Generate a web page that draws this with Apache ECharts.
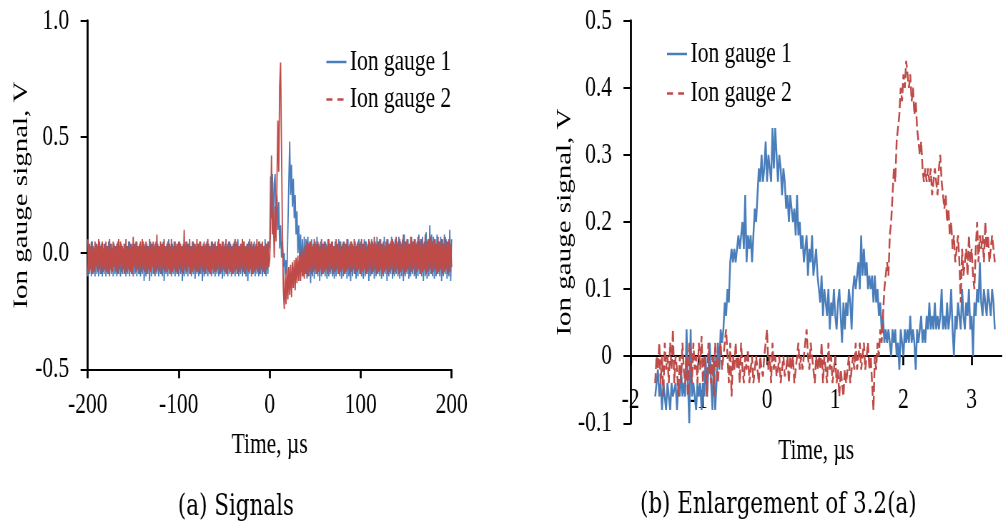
<!DOCTYPE html>
<html><head><meta charset="utf-8">
<script src="https://cdn.jsdelivr.net/npm/echarts@6.0.0/dist/echarts.min.js"></script>
<style>
html,body{margin:0;padding:0;overflow:hidden;background:#fff;width:1003px;height:529px}
#chart{width:1403px;height:529px;transform:scaleX(0.7149);transform-origin:0 0}
</style></head><body><div id="chart"></div>
<script>
// ---------- data ----------
const seriesNames = ['Ion gauge 1', 'Ion gauge 2'];
const captions = ['(a) Signals', '(b) Enlargement of 3.2(a)'];
const xName = 'Time, µs';
const yName = 'Ion gauge signal, V';

// (a) full record: one sample per µs from -200 to 200
const leftT0 = -200, leftDt = 1;
const leftGauge1 = [
-.1,.04,-.09,.03,-.1,.05,-.09,.02,-.1,.04,-.09,.03,-.1,.05,-.09,.04,-.1,.02,-.09,.04,
-.1,.03,-.09,.05,-.1,.04,-.09,.02,-.1,.04,-.09,.03,-.1,.05,-.09,.03,-.1,.04,-.09,.02,
-.09,.04,-.1,.03,-.09,.05,-.1,.04,-.09,.03,-.1,.04,-.09,.05,-.1,.03,-.09,.04,-.1,.03,
-.09,.05,-.12,.03,-.1,.04,-.09,.03,-.12,.05,-.1,.04,-.09,.03,-.1,.05,-.09,.04,-.1,.03,
-.09,.04,-.1,.05,-.12,.03,-.09,.04,-.1,.06,-.09,.03,-.1,.04,-.09,.05,-.1,.03,-.09,.04,
-.1,.05,-.09,.03,-.12,.04,-.1,.03,-.09,.05,-.1,.04,-.09,.03,-.1,.05,-.09,.04,-.11,.03,
-.09,.04,-.1,.05,-.09,.03,-.12,.04,-.1,.03,-.09,.05,-.1,.04,-.09,.03,-.1,.05,-.09,.04,
-.1,.03,-.09,.05,-.1,.04,-.09,.03,-.11,.05,-.1,.04,-.09,.03,-.1,.05,-.09,.04,-.1,.03,
-.09,.05,-.1,.04,-.09,.06,-.1,.03,-.09,.04,-.1,.05,-.09,.03,-.1,.04,-.12,.05,-.09,.04,
-.1,.03,-.09,.05,-.1,.04,-.09,.03,-.1,.05,-.09,.04,-.1,.03,-.09,.06,-.1,.04,-.09,.05,
.02,.33,.15,.34,.1,.3,.34,.08,.25,.1,.22,.02,.12,-.02,.05,-.06,0,-.1,-.03,-.09,
.1,.3,.48,.25,.38,.2,.32,.15,.25,.08,.18,0,.12,-.05,.08,-.08,.06,-.1,.07,-.09,
.06,-.11,.07,-.1,.05,-.13,.06,-.1,.04,-.11,.05,-.09,.07,-.1,.04,-.12,.05,-.1,.04,-.09,
.05,-.1,.04,-.11,.06,-.1,.04,-.09,.05,-.1,.03,-.11,.05,-.1,.04,-.09,.06,-.1,.05,-.11,
.04,-.1,.05,-.09,.04,-.11,.06,-.1,.04,-.12,.05,-.1,.03,-.09,.05,-.11,.04,-.1,.06,-.09,
.05,-.1,.04,-.11,.06,-.1,.05,-.09,.04,-.12,.05,-.1,.06,-.09,.04,-.11,.05,-.1,.07,-.09,
.05,-.1,.06,-.11,.04,-.1,.07,-.09,.05,-.12,.06,-.1,.04,-.09,.07,-.11,.05,-.1,.06,-.09,
.04,-.1,.07,-.11,.05,-.1,.06,-.12,.08,-.1,.05,-.09,.06,-.11,.04,-.1,.07,-.09,.05,-.1,
.06,-.11,.05,-.1,.08,-.09,.06,-.1,.07,-.12,.05,-.1,.09,-.11,.06,-.1,.12,-.09,.08,-.1,
.07,-.11,.06,-.1,.08,-.09,.05,-.1,.07,-.12,.06,-.1,.08,-.09,.06,-.11,.05,-.1,.1,-.12,
.06
];
const leftGauge2 = [
.06,-.08,.04,-.07,.05,-.09,.03,-.08,.05,-.06,.04,-.08,.06,-.07,.03,-.09,.05,-.08,.04,-.07,
.05,-.08,.03,-.09,.06,-.07,.04,-.08,.05,-.06,.03,-.08,.04,-.09,.06,-.07,.05,-.08,.03,-.07,
.04,-.09,.06,-.08,.03,-.07,.05,-.08,.04,-.09,.07,-.06,.04,-.08,.05,-.07,.03,-.09,.05,-.08,
.06,-.07,.04,-.08,.05,-.09,.03,-.07,.06,-.08,.04,-.06,.05,-.09,.04,-.08,.08,-.07,.03,-.08,
.05,-.09,.04,-.07,.06,-.08,.03,-.08,.05,-.07,.04,-.09,.06,-.08,.03,-.07,.05,-.08,.04,-.09,
.05,-.07,.04,-.08,.03,-.09,.1,-.07,.05,-.08,.04,-.06,.06,-.09,.03,-.08,.05,-.07,.04,-.08,
.06,-.08,.04,-.09,.05,-.07,.03,-.08,.05,-.09,.04,-.07,.06,-.08,.03,-.09,.05,-.07,.04,-.08,
.05,-.08,.03,-.07,.06,-.09,.04,-.08,.05,-.07,.03,-.08,.06,-.09,.04,-.07,.05,-.08,.03,-.09,
.04,-.08,.06,-.07,.05,-.09,.03,-.08,.04,-.07,.06,-.08,.05,-.09,.03,-.07,.04,-.08,.06,-.07,
.05,-.09,.04,-.08,.03,-.07,.06,-.08,.05,-.09,.04,-.07,.05,-.08,.03,-.09,.04,-.07,.05,-.06,
-.03,.12,.42,.08,.18,-.02,.2,.05,.3,.57,.35,.72,.82,.45,.1,-.15,-.24,-.1,-.22,-.07,
-.2,-.06,-.18,-.05,-.19,-.04,-.15,-.03,-.16,-.02,-.13,-.01,-.12,0,-.12,.02,-.1,.01,-.11,.03,
-.09,.05,-.1,.04,-.08,.05,-.09,.03,-.08,.06,-.07,.04,-.09,.05,-.08,.03,-.07,.06,-.09,.04,
-.08,.05,-.07,.03,-.09,.06,-.08,.04,-.07,.05,-.09,.03,-.08,.06,-.07,.04,-.09,.05,-.08,.03,
-.07,.05,-.09,.04,-.08,.06,-.07,.03,-.09,.05,-.08,.04,-.07,.06,-.09,.03,-.08,.05,-.07,.04,
-.09,.06,-.08,.04,-.07,.05,-.09,.03,-.08,.06,-.07,.04,-.09,.05,-.08,.07,-.07,.04,-.09,.05,
-.08,.06,-.07,.04,-.09,.05,-.08,.03,-.07,.06,-.09,.04,-.08,.05,-.07,.06,-.09,.04,-.08,.07,
-.07,.05,-.09,.06,-.08,.04,-.07,.08,-.09,.05,-.08,.06,-.07,.04,-.09,.07,-.08,.05,-.07,.06,
-.09,.04,-.08,.07,-.07,.05,-.09,.06,-.08,.04,-.07,.08,-.09,.05,-.08,.06,-.07,.07,-.09,.05,
-.08,.06,-.07,.04,-.09,.07,-.08,.05,-.07,.06,-.09,.04,-.08,.07,-.07,.05,-.09,.06,-.08,.04,
-.06
];

// (b) enlargement: one sample per 0.02 µs from -1.64 to 3.34
const rightT0 = -1.64, rightDt = 0.02;
const rightGauge1 = [
-0.06,-0.04,-0.02,-0.06,-0.04,-0.08,-0.04,-0.06,-0.08,-0.04,
-0.06,-0.08,-0.04,-0.06,-0.06,-0.04,-0.08,-0.04,-0.06,-0.02,
-0.06,-0.04,-0.06,0.04,-0.04,-0.10,0.04,-0.06,-0.04,-0.06,
-0.08,-0.04,-0.06,-0.04,-0.08,-0.04,-0.06,0.00,-0.06,-0.02,
0.02,-0.04,-0.08,0.00,-0.08,-0.04,0.02,-0.02,0.04,0.02,
0.04,0.08,0.06,0.10,0.08,0.14,0.16,0.14,0.16,0.14,
0.16,0.18,0.16,0.18,0.20,0.16,0.24,0.14,0.18,0.16,
0.18,0.14,0.18,0.22,0.20,0.24,0.28,0.26,0.30,0.26,
0.28,0.32,0.26,0.30,0.28,0.26,0.34,0.28,0.34,0.30,
0.26,0.30,0.28,0.24,0.28,0.26,0.22,0.24,0.20,0.24,
0.22,0.20,0.22,0.18,0.24,0.18,0.20,0.16,0.18,0.14,
0.16,0.18,0.12,0.16,0.14,0.18,0.12,0.14,0.16,0.12,
0.10,0.08,0.12,0.06,0.10,0.08,0.06,0.10,0.04,0.08,
0.06,0.10,0.06,0.04,0.08,0.10,0.06,0.02,0.08,0.04,
0.08,0.06,0.10,0.08,0.04,0.10,0.12,0.10,0.12,0.14,
0.10,0.18,0.12,0.16,0.12,0.14,0.10,0.12,0.10,0.12,
0.08,0.12,0.08,0.10,0.06,0.08,0.04,0.06,0.02,0.04,
0.02,0.04,0.02,0.00,0.04,0.02,0.04,0.00,0.02,-0.02,
0.04,0.02,0.00,0.04,0.02,0.04,0.02,0.06,0.02,0.04,
0.02,-0.02,0.04,0.02,0.04,0.06,0.02,0.04,0.02,0.06,
0.04,0.08,0.04,0.06,0.04,0.08,0.04,0.06,0.04,0.06,
0.10,0.04,0.06,0.04,0.08,0.04,0.06,0.10,0.04,0.00,
0.06,0.04,0.08,0.06,0.04,0.10,0.06,0.04,0.08,0.06,
0.10,0.04,0.06,0.00,0.08,0.06,0.10,0.08,0.14,0.08,
0.06,0.10,0.08,0.06,0.10,0.08,0.06,0.10,0.08,0.04
];
const rightGauge2 = [
-0.04,0.00,-0.02,0.02,-0.04,0.00,-0.06,0.02,-0.02,0.00,
-0.04,0.02,-0.02,0.04,-0.04,0.00,-0.02,-0.06,0.00,-0.04,
0.02,-0.02,-0.04,0.00,-0.06,0.02,-0.02,-0.04,0.02,-0.02,
0.00,-0.04,0.02,-0.02,0.03,-0.04,0.00,-0.02,-0.06,0.02,
-0.02,-0.04,0.00,-0.06,0.02,-0.02,-0.04,0.00,0.02,-0.02,
0.00,0.02,0.04,0.00,-0.04,0.02,-0.06,0.00,-0.02,0.02,
-0.02,0.00,-0.04,0.02,-0.02,-0.04,0.00,-0.02,0.01,-0.04,
-0.02,0.00,-0.04,-0.02,0.00,-0.02,-0.04,0.00,-0.02,-0.03,
0.00,0.02,0.04,-0.02,0.00,-0.04,0.02,-0.02,0.00,-0.03,
-0.02,0.00,-0.04,-0.02,0.00,-0.03,-0.02,0.00,-0.04,0.00,
-0.02,0.00,-0.04,-0.02,0.00,0.02,-0.02,0.00,-0.02,0.00,
0.02,0.04,0.00,-0.02,0.02,0.00,-0.02,-0.04,0.00,-0.02,
0.00,-0.02,0.02,-0.04,0.00,-0.02,-0.04,0.02,-0.02,0.00,
-0.04,-0.02,0.00,-0.04,-0.02,-0.06,-0.02,-0.04,-0.06,-0.02,
-0.04,-0.02,0.00,-0.04,-0.02,0.00,-0.02,0.02,-0.02,0.00,
0.02,-0.02,0.00,0.02,-0.02,0.00,0.02,-0.02,0.00,-0.04,
-0.08,0.00,-0.02,0.02,0.00,0.04,0.02,0.06,0.10,0.12,
0.14,0.12,0.18,0.20,0.24,0.28,0.26,0.32,0.34,0.36,
0.40,0.38,0.42,0.40,0.44,0.42,0.40,0.42,0.38,0.40,
0.36,0.38,0.34,0.32,0.30,0.32,0.28,0.26,0.28,0.26,
0.28,0.26,0.28,0.24,0.26,0.28,0.26,0.24,0.28,0.30,
0.26,0.24,0.22,0.24,0.20,0.22,0.18,0.20,0.16,0.18,
0.14,0.16,0.18,0.14,0.08,0.16,0.12,0.14,0.16,0.12,
0.18,0.14,0.16,0.12,0.10,0.16,0.20,0.14,0.18,0.16,
0.18,0.14,0.20,0.16,0.18,0.14,0.16,0.18,0.16,0.14
];

const leftXTicks = { min: -200, max: 200, interval: 100 };
const leftYTicks = { min: -0.5, max: 1.0, interval: 0.5 };
const rightXTickValues = [-2, -1, 0, 1, 2, 3];
const rightXRange = { min: -2, max: 3.44 };
const rightYTicks = { min: -0.1, max: 0.5, interval: 0.1 };

// ---------- chart ----------
const colors = ['#4A7EBB', '#BE4B48'];
const FONT = '"Liberation Serif","Times New Roman",serif';
const CAPFONT = '"DejaVu Serif",serif';
function toPairs(t0, dt, vals) { return vals.map((v, i) => [+(t0 + i * dt).toFixed(3), v]); }

const txt = { fontFamily: FONT, fontSize: 30, color: '#000' };
const xLine = { onZero: false, lineStyle: { color: '#000', width: 2 } };
const yLine = { onZero: false, lineStyle: { color: '#000', width: 2.8 } };
const xTick = { length: 9, lineStyle: { color: '#000', width: 2.8 } };
const yTick = { length: 10, lineStyle: { color: '#000', width: 2 } };

// legend icons: a solid bar and a two-dash bar inside a 28x14 box
const iconSolid = 'path://M0,0M28,14M0,5.75h28v2.5h-28z';
const iconDashed = 'path://M0,0M28,14M0,5.75h8.5v2.5h-8.5zM15.5,5.75h8.5v2.5h-8.5z';

function legendFor(left, top, gap) {
  return {
    orient: 'vertical', left: left, top: top, padding: 0, itemGap: gap,
    itemWidth: 28, itemHeight: 14, symbolKeepAspect: false,
    textStyle: { fontFamily: FONT, fontSize: 30, color: '#000' },
    data: [
      { name: seriesNames[0], icon: iconSolid, itemStyle: { color: colors[0] } },
      { name: seriesNames[1], icon: iconDashed, itemStyle: { color: colors[1] } }
    ]
  };
}

const rightGridHeight = 402.6;
const chart = echarts.init(document.getElementById('chart'), null, { renderer: 'canvas', width: 1403, height: 529 });
chart.setOption({
  animation: false,
  backgroundColor: '#fff',
  title: [
    { text: captions[0], left: 330, top: 492, textAlign: 'center', padding: 0,
      textStyle: { fontFamily: CAPFONT, fontSize: 30, fontWeight: 'normal', color: '#000' } },
    { text: captions[1], left: 1088.7, top: 490, textAlign: 'center', padding: 0,
      textStyle: { fontFamily: CAPFONT, fontSize: 30, fontWeight: 'normal', color: '#000' } }
  ],
  legend: [legendFor(456.5, 47, 7.5), legendFor(933, 39, 9.5)],
  grid: [
    { left: 122.7, top: 20.7, width: 509, height: 348.6, outerBoundsMode: 'none', containLabel: false },
    { left: 882.1, top: 20.7, width: 519, height: rightGridHeight, outerBoundsMode: 'none', containLabel: false }
  ],
  xAxis: [
    { gridIndex: 0, type: 'value', min: leftXTicks.min, max: leftXTicks.max, interval: leftXTicks.interval,
      axisLine: xLine, axisTick: xTick, splitLine: { show: false },
      axisLabel: Object.assign({ margin: 21 }, txt),
      name: xName, nameLocation: 'middle', nameGap: 61, nameTextStyle: txt },
    { gridIndex: 1, type: 'value', min: rightXRange.min, max: rightXRange.max, interval: 1,
      position: 'bottom',
      // the axis sits on the zero line: one y-interval (0.1 of 0.6) above the grid bottom
      offset: -rightGridHeight * (0 - rightYTicks.min) / (rightYTicks.max - rightYTicks.min),
      axisLine: xLine,
      axisTick: Object.assign({ customValues: rightXTickValues }, xTick), splitLine: { show: false },
      axisLabel: Object.assign({ margin: 29, customValues: rightXTickValues }, txt),
      name: xName, nameLocation: 'middle', nameGap: 80, nameTextStyle: txt }
  ],
  yAxis: [
    { gridIndex: 0, type: 'value', min: leftYTicks.min, max: leftYTicks.max, interval: leftYTicks.interval,
      axisLine: yLine, axisTick: yTick, splitLine: { show: false },
      axisLabel: Object.assign({ margin: 26, formatter: v => v.toFixed(1) }, txt),
      name: yName, nameLocation: 'middle', nameGap: 76,
      nameTextStyle: { fontFamily: FONT, fontSize: 29, color: '#000' } },
    { gridIndex: 1, type: 'value', min: rightYTicks.min, max: rightYTicks.max, interval: rightYTicks.interval,
      axisLine: yLine, axisTick: yTick, splitLine: { show: false },
      axisLabel: Object.assign({ margin: 26, formatter: v => Math.abs(v) < 1e-9 ? '0' : v.toFixed(1) }, txt),
      name: yName, nameLocation: 'middle', nameGap: 75,
      nameTextStyle: { fontFamily: FONT, fontSize: 29, color: '#000' } }
  ],
  series: [
    { name: seriesNames[0], type: 'line', xAxisIndex: 0, yAxisIndex: 0, symbol: 'none',
      data: toPairs(leftT0, leftDt, leftGauge1),
      lineStyle: { color: colors[0], width: 1.8 }, itemStyle: { color: colors[0] } },
    { name: seriesNames[1], type: 'line', xAxisIndex: 0, yAxisIndex: 0, symbol: 'none',
      data: toPairs(leftT0, leftDt, leftGauge2),
      lineStyle: { color: colors[1], width: 1.8 }, itemStyle: { color: colors[1] } },
    { name: seriesNames[0], type: 'line', xAxisIndex: 1, yAxisIndex: 1, symbol: 'none',
      data: toPairs(rightT0, rightDt, rightGauge1),
      lineStyle: { color: colors[0], width: 2.5 }, itemStyle: { color: colors[0] } },
    { name: seriesNames[1], type: 'line', xAxisIndex: 1, yAxisIndex: 1, symbol: 'none',
      data: toPairs(rightT0, rightDt, rightGauge2),
      lineStyle: { color: colors[1], width: 2.5, type: [10, 4] }, itemStyle: { color: colors[1] } }
  ]
});
</script></body></html>
